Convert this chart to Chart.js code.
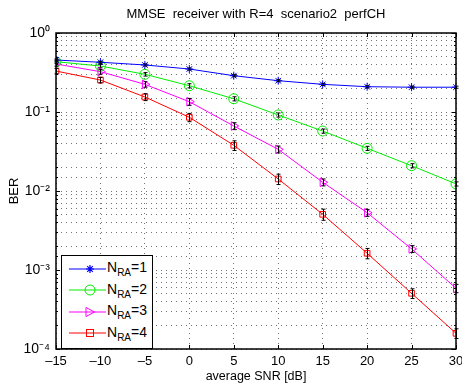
<!DOCTYPE html>
<html>
<head>
<meta charset="utf-8">
<script src="https://cdn.jsdelivr.net/npm/chart.js@4.4.1/dist/chart.umd.min.js"></script>
<style>
  html, body { margin: 0; padding: 0; background: #fff; }
  #wrap { position: relative; width: 462px; height: 387px; }
  #legend {
    position: absolute; left: 61px; top: 255px; width: 92px; height: 94px;
    box-sizing: border-box; border: 1.5px solid #000; background: #fff;
    font-family: 'Liberation Sans', Arial, sans-serif; font-size: 14px; color: #000;
    padding-top: 2px;
  }
  .row { height: 21.5px; display: flex; align-items: center; }
  .row svg { margin-left: 6px; margin-right: 1px; }
  .row sub { font-size: 10px; vertical-align: -4px; }
</style>
</head>
<body>
<div id="wrap">
  <canvas id="berChart"></canvas>
  <div id="legend"></div>
</div>
<script>
// Simulated BER vs. average SNR, MMSE receiver, R=4
const snr = [-15, -10, -5, 0, 5, 10, 15, 20, 25, 30];
const berRA1 = [0.455, 0.426, 0.394, 0.350, 0.288, 0.249, 0.224, 0.209, 0.206, 0.206];
const berRA2 = [0.433, 0.382, 0.300, 0.215, 0.147, 0.0917, 0.0574, 0.0347, 0.0209, 0.0123];
const berRA3 = [0.405, 0.324, 0.224, 0.135, 0.0665, 0.0337, 0.0129, 0.00531, 0.00185, 0.000587];
const berRA4 = [0.330, 0.254, 0.155, 0.0857, 0.0379, 0.0142, 0.00507, 0.00163, 0.000507, 0.000158];
// relative half-width of the confidence bars
const errRA1 = [0.03, 0.03, 0.03, 0.03, 0.03, 0.03, 0.03, 0.03, 0.03, 0.03];
const errRA2 = [0.05, 0.05, 0.05, 0.06, 0.06, 0.06, 0.06, 0.06, 0.06, 0.06];
const errRA3 = [0.06, 0.07, 0.08, 0.10, 0.10, 0.10, 0.10, 0.10, 0.10, 0.12];
const errRA4 = [0.08, 0.08, 0.10, 0.12, 0.14, 0.15, 0.16, 0.15, 0.14, 0.14];
const seriesNames = ['1', '2', '3', '4'];
const yTickPowers = [0, -1, -2, -3, -4];

const FONT = "'Liberation Sans', Arial, sans-serif";
const supMap = { '0': '⁰', '1': '¹', '2': '²', '3': '³', '4': '⁴', '-': '⁻' };
const sup = s => String(s).split('').map(c => supMap[c]).join('');

const series = [
  { ber: berRA1, err: errRA1, color: '#0000ff', style: 'star', radius: 4, rot: 0 },
  { ber: berRA2, err: errRA2, color: '#00ee00', style: 'circle', radius: 5, rot: 0 },
  { ber: berRA3, err: errRA3, color: '#ff00ff', style: 'triangle', radius: 5, rot: 90 },
  { ber: berRA4, err: errRA4, color: '#ff0000', style: 'rect', radius: 4, rot: 0 },
];

const datasets = series.map((s, i) => ({
  label: 'N_RA=' + seriesNames[i],
  data: snr.map((x, j) => ({ x, y: s.ber[j] })),
  borderColor: s.color,
  backgroundColor: 'transparent',
  borderWidth: 1,
  pointStyle: s.style,
  pointRadius: s.radius,
  pointRotation: s.rot,
  pointBorderColor: s.color,
  pointBackgroundColor: 'transparent',
  pointBorderWidth: 1,
  tension: 0,
}));

// title over the plot area + frame with inward ticks + error bars
const decorations = {
  id: 'decorations',
  afterDatasetsDraw(chart) {
    const { ctx, scales: { y } } = chart;
    ctx.save();
    ctx.strokeStyle = '#000';
    ctx.lineWidth = 1;
    series.forEach((s, i) => {
      const meta = chart.getDatasetMeta(i);
      meta.data.forEach((pt, j) => {
        const v = s.ber[j], e = s.err[j];
        const yTop = y.getPixelForValue(v * (1 + e));
        const yBot = y.getPixelForValue(v * (1 - e));
        const px = Math.round(pt.x) + 0.5;
        ctx.beginPath();
        ctx.moveTo(px, yTop); ctx.lineTo(px, yBot);
        ctx.moveTo(px - 2, yTop); ctx.lineTo(px + 2, yTop);
        ctx.moveTo(px - 2, yBot); ctx.lineTo(px + 2, yBot);
        ctx.stroke();
      });
    });
    ctx.restore();
  },
  afterDraw(chart) {
    const { ctx, chartArea: a, scales: { x, y } } = chart;
    ctx.save();
    ctx.strokeStyle = '#000';
    ctx.lineWidth = 1;
    ctx.beginPath();
    x.ticks.forEach(t => {
      const px = Math.round(x.getPixelForValue(t.value)) + 0.5;
      ctx.moveTo(px, a.bottom); ctx.lineTo(px, a.bottom - 4);
      ctx.moveTo(px, a.top); ctx.lineTo(px, a.top + 4);
    });
    y.ticks.forEach(t => {
      const py = Math.round(y.getPixelForValue(t.value)) + 0.5;
      const len = t.label ? 4 : 2;
      ctx.moveTo(a.left, py); ctx.lineTo(a.left + len, py);
      ctx.moveTo(a.right, py); ctx.lineTo(a.right - len, py);
    });
    ctx.stroke();
    ctx.lineWidth = 1.5;
    ctx.strokeRect(a.left, a.top, a.right - a.left, a.bottom - a.top);
    ctx.fillStyle = '#000';
    ctx.font = '13px ' + FONT;
    ctx.textAlign = 'center';
    ctx.textBaseline = 'middle';
    ctx.fillText('MMSE  receiver with R=4  scenario2  perfCH', (a.left + a.right) / 2, 14);
    ctx.restore();
  }
};

new Chart(document.getElementById('berChart'), {
  type: 'line',
  data: { datasets },
  plugins: [decorations],
  options: {
    responsive: true,
    maintainAspectRatio: false,
    animation: false,
    layout: { padding: { left: 0, right: 5, top: 33, bottom: 0 } },
    plugins: { legend: { display: false }, tooltip: { enabled: false } },
    scales: {
      x: {
        type: 'linear',
        min: -15, max: 30,
        afterFit: s => { s.height = 38; s.paddingLeft = 0; s.paddingRight = 0; },
        ticks: {
          stepSize: 5, padding: 5, color: '#000',
          font: { family: FONT, size: 13 },
          callback: v => String(v).replace('-', '–'),
        },
        grid: { color: 'rgba(0,0,0,0.55)', drawTicks: false, lineWidth: 1 },
        border: { display: false, dash: [1, 4] },
        title: {
          display: true, text: 'average SNR [dB]', color: '#000',
          font: { family: FONT, size: 12.5 }, padding: { top: 0, bottom: 3 },
        },
      },
      y: {
        type: 'logarithmic',
        min: 1e-4, max: 1,
        afterFit: s => { s.width = 56; s.paddingTop = 0; s.paddingBottom = 0; },
        ticks: {
          autoSkip: false, padding: 6, color: '#000',
          font: { family: FONT, size: 14 },
          callback: v => {
            const p = Math.round(Math.log10(v));
            if (yTickPowers.includes(p) && Math.abs(v - Math.pow(10, p)) < 1e-9 * v) return '10' + sup(p);
            return '';
          },
        },
        grid: { color: 'rgba(0,0,0,0.55)', drawTicks: false, lineWidth: 1 },
        border: { display: false, dash: [1, 4] },
        title: {
          display: true, text: 'BER', color: '#000',
          font: { family: FONT, size: 13 }, padding: { top: 7, bottom: 0 },
        },
      },
    },
  },
});

// legend with subscripts, drawn as HTML over the plot
function markerSvg(s) {
  const c = s.color;
  let m = '';
  if (s.style === 'star') {
    m = `<path d="M22 4v8M18 8h8M19.2 5.2l5.6 5.6M24.8 5.2l-5.6 5.6" stroke="${c}" stroke-width="1.2"/>`;
  } else if (s.style === 'circle') {
    m = `<circle cx="22" cy="8" r="5" fill="none" stroke="${c}"/>`;
  } else if (s.style === 'triangle') {
    m = `<path d="M18 3.5L26.5 8L18 12.5Z" fill="none" stroke="${c}"/>`;
  } else {
    m = `<rect x="18.5" y="4.5" width="7" height="7" fill="none" stroke="${c}"/>`;
  }
  return `<svg width="38" height="16"><line x1="1" y1="8" x2="38" y2="8" stroke="${c}"/>${m}</svg>`;
}
document.getElementById('legend').innerHTML = series.map((s, i) =>
  `<div class="row">${markerSvg(s)}<span>N<sub>RA</sub>=${seriesNames[i]}</span></div>`
).join('');
</script>
</body>
</html>
